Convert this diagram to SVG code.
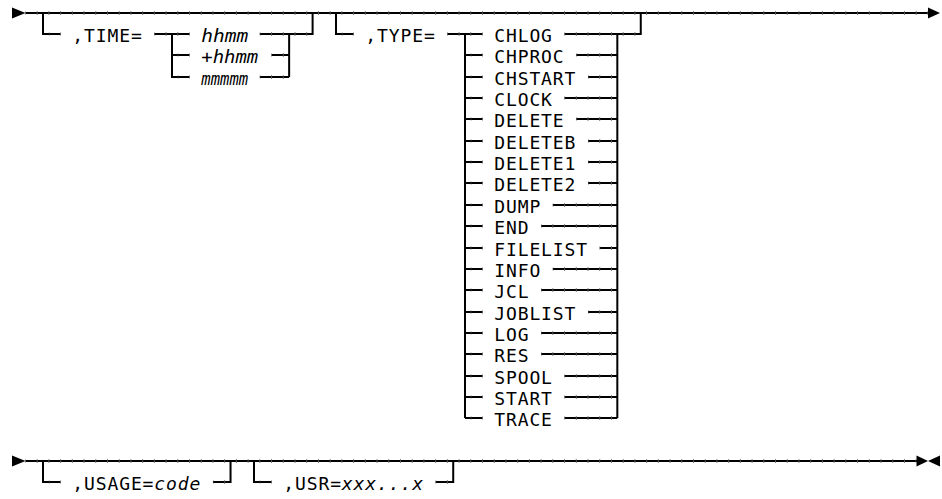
<svg xmlns="http://www.w3.org/2000/svg" width="942" height="499" viewBox="0 0 942 499">
<style>
.ln{fill:none;stroke:#000;stroke-width:2}
.tk{fill:none;stroke:#555;stroke-width:3.6;stroke-dasharray:1 10.72;stroke-dashoffset:0.5}
.ar{fill:#000}
.t{font-family:"DejaVu Sans Mono","Liberation Mono",monospace;font-size:18px;letter-spacing:0.88px;fill:#000}
.i{font-family:"DejaVu Sans Mono","Liberation Mono",monospace;font-size:18px;font-style:italic;fill:#000}
</style>
<rect width="942" height="499" fill="#fff"/>
<g id="connectors">
  <!-- top row -->
  <polygon class="ar" points="12,7.5 25.5,13 12,18.5"/>
  <path class="ln" d="M25.44 13H928"/>
  <polygon class="ar" points="928,7.5 940,13 928,18.5"/>
  <!-- TIME branch -->
  <path class="ln" d="M43 13V34H60.6"/>
  <path class="ln" d="M154.36 34H189.52M172 34V77H189.52M172 55H189.52"/>
  <path class="ln" d="M259.84 34H312.6V13M289.14 34V77M271.56 55H289.14M259.84 77H289.14"/>
  <!-- TYPE branch -->
  <path class="ln" d="M336 13V34H353.6"/>
  <path class="ln" d="M447.36 34H482.52M465 34V418"/>
  <path class="ln" d="M564.56 34H640.76V13M617.32 34V418"/>
  <path class="ln" d="M465 55H482.52M465 77H482.52M465 98H482.52M465 119H482.52M465 141H482.52M465 162H482.52M465 183H482.52M465 205H482.52M465 226H482.52M465 248H482.52M465 269H482.52M465 290H482.52M465 312H482.52M465 333H482.52M465 354H482.52M465 376H482.52M465 397H482.52M465 418H482.52"/>
  <path class="ln" d="M576.28 55H617.32M588 77H617.32M564.56 98H617.32M576.28 119H617.32M588 141H617.32M588 162H617.32M588 183H617.32M552.84 205H617.32M541.12 226H617.32M599.72 248H617.32M552.84 269H617.32M541.12 290H617.32M588 312H617.32M541.12 333H617.32M541.12 354H617.32M564.56 376H617.32M564.56 397H617.32M564.56 418H617.32"/>
  <!-- bottom row -->
  <polygon class="ar" points="12,455.5 25.5,461 12,466.5"/>
  <path class="ln" d="M25.44 461H917"/>
  <polygon class="ar" points="916.5,455.5 928,461 916.5,466.5"/>
  <polygon class="ar" points="940,455.5 928,461 940,466.5"/>
  <path class="ln" d="M43 461V482H60.6M212.96 482H230.54V461"/>
  <path class="ln" d="M254 461V482H271.56M435.64 482H453.22V461"/>
  <!-- tick marks of the line characters -->
  <path class="tk" d="M25.44 13H928M48.88 34H60.6M154.36 34H189.52M259.84 34H312.58M341.88 34H353.6M447.36 34H482.52M564.56 34H640.76M177.8 55H189.52M271.56 55H289.14M177.8 77H189.52M259.84 77H289.14"/>
  <path class="tk" d="M470.8 55H482.52M470.8 77H482.52M470.8 98H482.52M470.8 119H482.52M470.8 141H482.52M470.8 162H482.52M470.8 183H482.52M470.8 205H482.52M470.8 226H482.52M470.8 248H482.52M470.8 269H482.52M470.8 290H482.52M470.8 312H482.52M470.8 333H482.52M470.8 354H482.52M470.8 376H482.52M470.8 397H482.52M470.8 418H482.52"/>
  <path class="tk" d="M576.28 55H617.32M588 77H617.32M564.56 98H617.32M576.28 119H617.32M588 141H617.32M588 162H617.32M588 183H617.32M552.84 205H617.32M541.12 226H617.32M599.72 248H617.32M552.84 269H617.32M541.12 290H617.32M588 312H617.32M541.12 333H617.32M541.12 354H617.32M564.56 376H617.32M564.56 397H617.32M564.56 418H617.32"/>
  <path class="tk" d="M25.44 461H916.16M48.88 482H60.6M212.96 482H230.54M259.84 482H271.56M435.64 482H453.22"/>
</g>
<g id="n-time"><text class="t" x="72.32" y="42">,TIME=</text></g>
<g id="n-hhmm"><text class="i" x="201.24" y="42" textLength="47" lengthAdjust="spacingAndGlyphs">hhmm</text></g>
<g id="n-phhmm"><text class="i" x="201.24" y="63" textLength="57" lengthAdjust="spacingAndGlyphs">+hhmm</text></g>
<g id="n-mmmmm"><text class="i" x="201.24" y="85" textLength="47" lengthAdjust="spacingAndGlyphs">mmmmm</text></g>
<g id="n-type"><text class="t" x="365.32" y="42">,TYPE=</text></g>
<g id="n-chlog"><text class="t" x="494.24" y="42">CHLOG</text></g>
<g id="n-chproc"><text class="t" x="494.24" y="63">CHPROC</text></g>
<g id="n-chstart"><text class="t" x="494.24" y="85">CHSTART</text></g>
<g id="n-clock"><text class="t" x="494.24" y="106">CLOCK</text></g>
<g id="n-delete"><text class="t" x="494.24" y="127">DELETE</text></g>
<g id="n-deleteb"><text class="t" x="494.24" y="149">DELETEB</text></g>
<g id="n-delete1"><text class="t" x="494.24" y="170">DELETE1</text></g>
<g id="n-delete2"><text class="t" x="494.24" y="191">DELETE2</text></g>
<g id="n-dump"><text class="t" x="494.24" y="213">DUMP</text></g>
<g id="n-end"><text class="t" x="494.24" y="234">END</text></g>
<g id="n-filelist"><text class="t" x="494.24" y="256">FILELIST</text></g>
<g id="n-info"><text class="t" x="494.24" y="277">INFO</text></g>
<g id="n-jcl"><text class="t" x="494.24" y="298">JCL</text></g>
<g id="n-joblist"><text class="t" x="494.24" y="320">JOBLIST</text></g>
<g id="n-log"><text class="t" x="494.24" y="341">LOG</text></g>
<g id="n-res"><text class="t" x="494.24" y="362">RES</text></g>
<g id="n-spool"><text class="t" x="494.24" y="384">SPOOL</text></g>
<g id="n-start"><text class="t" x="494.24" y="405">START</text></g>
<g id="n-trace"><text class="t" x="494.24" y="426">TRACE</text></g>
<g id="n-usage"><text class="t" x="72.32" y="490">,USAGE=<tspan class="i" letter-spacing="0.88">code</tspan></text></g>
<g id="n-usr"><text class="t" x="283.28" y="490">,USR=<tspan class="i" letter-spacing="0.88">xxx...x</tspan></text></g>
</svg>
